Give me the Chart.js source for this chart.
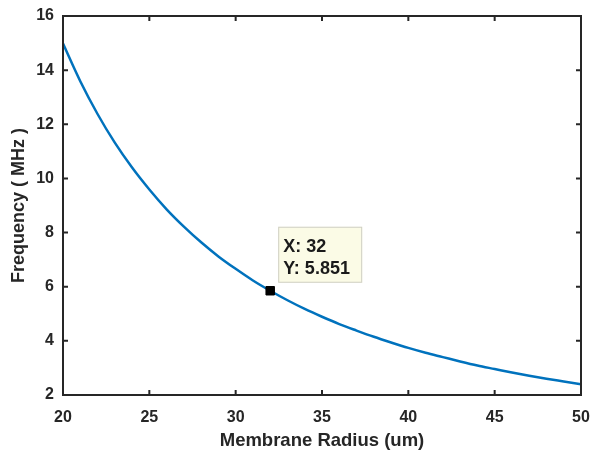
<!DOCTYPE html>
<html>
<head>
<meta charset="utf-8">
<script src="https://cdn.jsdelivr.net/npm/chart.js@4/dist/chart.umd.min.js"></script>
<style>
  html, body { margin: 0; padding: 0; background: #fff; }
  #freq { display: block; }
</style>
</head>
<body>
<canvas id="freq" width="592" height="452"></canvas>
<script>
// membrane radius (um) vs resonant frequency (MHz)
const radius = [20, 21, 22, 23, 24, 25, 26, 27, 28, 29, 30, 31, 32, 33, 34, 35,
                36, 37, 38, 39, 40, 41, 42, 43, 44, 45, 46, 47, 48, 49, 50];
const frequency = [14.98, 13.59, 12.38, 11.32, 10.40, 9.59, 8.86, 8.22, 7.64, 7.12,
                   6.66, 6.23, 5.851, 5.50, 5.18, 4.89, 4.62, 4.38, 4.15, 3.94,
                   3.74, 3.56, 3.40, 3.24, 3.09, 2.96, 2.83, 2.71, 2.60, 2.50, 2.40];
// data cursor
const tipX = 32;
const tipY = 5.851;

const xTicks = [20, 25, 30, 35, 40, 45, 50];
const yTicks = [2, 4, 6, 8, 10, 12, 14, 16];

const axisColor = '#262626';
const fontFamily = '"Liberation Sans", Arial, Helvetica, sans-serif';

// box around the axes with ticks pointing inward on all four sides
const boxAxes = {
  id: 'boxAxes',
  afterDraw(chart) {
    const { ctx, chartArea: a, scales: { x, y } } = chart;
    const len = 5;
    ctx.save();
    ctx.strokeStyle = axisColor;
    ctx.lineWidth = 2;
    ctx.beginPath();
    xTicks.forEach(v => {
      const px = x.getPixelForValue(v);
      ctx.moveTo(px, a.bottom); ctx.lineTo(px, a.bottom - len);
      ctx.moveTo(px, a.top); ctx.lineTo(px, a.top + len);
    });
    yTicks.forEach(v => {
      const py = y.getPixelForValue(v);
      ctx.moveTo(a.left, py); ctx.lineTo(a.left + len, py);
      ctx.moveTo(a.right, py); ctx.lineTo(a.right - len, py);
    });
    ctx.stroke();
    ctx.strokeRect(a.left, a.top, a.right - a.left, a.bottom - a.top);
    ctx.restore();
  }
};

// datatip box next to the cursor point
const dataTip = {
  id: 'dataTip',
  afterDatasetsDraw(chart) {
    const { ctx, scales: { x, y } } = chart;
    const px = x.getPixelForValue(tipX);
    const py = y.getPixelForValue(tipY);
    const bx = px + 8, by = py - 64;
    ctx.save();
    ctx.fillStyle = '#fbfbe6';
    ctx.fillRect(bx, by, 84, 56);
    ctx.strokeStyle = '#cfcfc4';
    ctx.lineWidth = 1;
    ctx.strokeRect(bx + 0.5, by + 0.5, 83, 55);
    ctx.fillStyle = '#1a1a1a';
    ctx.font = 'bold 18px ' + fontFamily;
    ctx.textBaseline = 'alphabetic';
    ctx.fillText('X: ' + tipX, px + 13, py - 39);
    ctx.fillText('Y: ' + tipY, px + 13, py - 17);
    ctx.restore();
  }
};

// drop the extra room Chart.js keeps for half of the edge labels
const noEdgePad = s => {
  s.paddingLeft = 0; s.paddingRight = 0;
  s.paddingTop = 0; s.paddingBottom = 0;
};

new Chart(document.getElementById('freq'), {
  type: 'line',
  data: {
    datasets: [{
      data: radius.map((r, i) => ({ x: r, y: frequency[i] })),
      borderColor: '#0072BD',
      borderWidth: 2.5,
      pointRadius: 0,
      cubicInterpolationMode: 'monotone',
      fill: false,
      order: 2
    }, {
      data: [{ x: tipX, y: tipY }],
      showLine: false,
      pointStyle: 'rect',
      pointRadius: 6,
      pointBackgroundColor: '#000',
      pointBorderColor: '#000',
      pointBorderWidth: 1,
      order: 1
    }]
  },
  options: {
    responsive: false,
    animation: false,
    events: [],
    layout: { padding: { left: 0, top: 16, right: 11, bottom: 0 } },
    plugins: { legend: { display: false }, tooltip: { enabled: false } },
    scales: {
      x: {
        type: 'linear',
        min: 20,
        max: 50,
        afterBuildTicks: s => { s.ticks = xTicks.map(v => ({ value: v })); },
        afterFit: s => { s.height = 57; noEdgePad(s); },
        grid: { display: false, drawTicks: false },
        border: { display: false },
        ticks: { color: axisColor, padding: 13, maxRotation: 0,
                 font: { family: fontFamily, size: 16, weight: 'bold' } },
        title: { display: true, text: 'Membrane Radius (um)', color: axisColor,
                 padding: { top: 0, bottom: 0 },
                 font: { family: fontFamily, size: 18.5, weight: 'bold' } }
      },
      y: {
        min: 2,
        max: 16,
        afterBuildTicks: s => { s.ticks = yTicks.map(v => ({ value: v })); },
        afterFit: s => { s.width = 63; noEdgePad(s); },
        grid: { display: false, drawTicks: false },
        border: { display: false },
        ticks: { color: axisColor, padding: 9,
                 font: { family: fontFamily, size: 16, weight: 'bold' } },
        title: { display: true, text: 'Frequency ( MHz )', color: axisColor,
                 padding: { top: 8, bottom: 0 },
                 font: { family: fontFamily, size: 18, weight: 'bold' } }
      }
    }
  },
  plugins: [boxAxes, dataTip]
});
</script>
</body>
</html>
